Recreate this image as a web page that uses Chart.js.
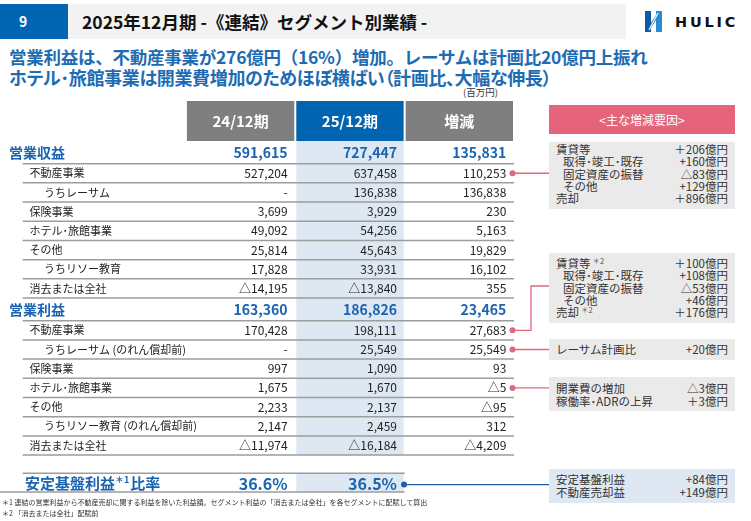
<!DOCTYPE html>
<html lang="ja">
<head>
<meta charset="utf-8">
<title>2025年12月期 セグメント別業績</title>
<script src="https://cdn.jsdelivr.net/npm/chart.js@4.4.1/dist/chart.umd.min.js"></script>
<style>
  html, body { margin: 0; padding: 0; background: #fff; }
  body { width: 751px; height: 521px; position: relative; overflow: hidden;
         font-family: 'Noto Sans CJK JP', sans-serif; color: #222; }
  .abs { position: absolute; }
  #pageNo { left: 0; top: 4px; width: 68px; height: 35px; background: #0066b3; color: #fff;
            font-weight: bold; font-size: 14px; line-height: 35px; padding-left: 19px; box-sizing: border-box; }
  #titleBar { left: 68px; top: 4px; width: 558px; height: 35px; background: #f2f2f2; }
  #titleBar span { position: absolute; left: 14px; top: 0; line-height: 35px; font-size: 17.5px;
                   font-weight: bold; color: #111; white-space: nowrap; }
  #logo { left: 645px; top: 11px; }
  #logoText { left: 675px; top: 11px; font-family: 'DejaVu Sans', sans-serif; font-weight: bold;
              font-size: 14.5px; line-height: 22px; letter-spacing: 2.8px; color: #111; }
  .headline { left: 9px; font-weight: bold; color: #1d6cb3; line-height: 20px; white-space: nowrap; }
  #head1 { top: 47px; font-size: 17.5px; letter-spacing: -0.25px; }
  #head2 { top: 67px; font-size: 18px; letter-spacing: -0.35px; font-feature-settings: "palt"; }
  #unit { left: 463px; top: 86px; font-size: 9.5px; line-height: 12px; color: #333; }
  #table { left: 0; top: 98px; }
  #factorHead { left: 549px; top: 105px; width: 186px; height: 29px; background: #e5637b; color: #fff;
                text-align: center; line-height: 29px; font-size: 12px; }
  .box { position: absolute; left: 549px; width: 186px; background: #ebeaeb; box-sizing: border-box;
         padding: 0 7px; font-size: 11.5px; color: #333; }
  .box .r { display: flex; justify-content: space-between; white-space: nowrap; }
  .box .ind { padding-left: 7px; }
  .box .sup { font-size: 7.5px; position: relative; top: -4px; color: #555; margin-left: 2px; }
  #box1 { top: 142px; height: 67px; padding-top: 1px; }
  #box1 .r, #box2 .r { line-height: 12.35px; height: 12.35px; }
  #box2 { top: 253px; height: 70px; padding-top: 4px; }
  #box3 { top: 339px; height: 21px; }
  #box3 .r { line-height: 21px; }
  #box4 { top: 377px; height: 34px; padding-top: 5px; }
  #box4 .r { line-height: 12.7px; height: 12.7px; }
  #box5 { top: 469px; height: 34px; padding-top: 3.5px; background: #dde8f3; }
  #box5 .r { line-height: 13.4px; height: 13.4px; }
  .note { left: 2px; font-size: 7px; line-height: 9px; color: #333; white-space: nowrap; }
</style>
</head>
<body>
<div class="abs" id="pageNo">9</div>
<div class="abs" id="titleBar"><span>2025年12月期 -《連結》セグメント別業績 -</span></div>
<svg class="abs" id="logo" width="17" height="21" viewBox="0 0 17 21">
  <rect x="0" y="0" width="6" height="21" fill="#0f5ba8"/>
  <rect x="11" y="0" width="6" height="21" fill="#2a8bd3"/>
  <polygon points="6,12 11,4 11,9 6,17" fill="#1b73c0"/>
  <line x1="4" y1="19" x2="13" y2="2" stroke="#fff" stroke-width="1.2"/>
</svg>
<div class="abs" id="logoText">HULIC</div>

<div class="abs headline" id="head1">営業利益は、不動産事業が276億円（16%）増加。レーサムは計画比20億円上振れ</div>
<div class="abs headline" id="head2">ホテル･旅館事業は開業費増加のためほぼ横ばい（計画比、大幅な伸長）</div>
<div class="abs" id="unit">(百万円)</div>

<canvas class="abs" id="table" width="549" height="404" style="width:549px;height:404px"></canvas>

<div class="abs" id="factorHead">&lt;主な増減要因&gt;</div>
<div class="box" id="box1">
  <div class="r"><span>賃貸等</span><span>＋206億円</span></div>
  <div class="r ind"><span>取得･竣工･既存</span><span>+160億円</span></div>
  <div class="r ind"><span>固定資産の振替</span><span>△83億円</span></div>
  <div class="r ind"><span>その他</span><span>+129億円</span></div>
  <div class="r"><span>売却</span><span>＋896億円</span></div>
</div>
<div class="box" id="box2">
  <div class="r"><span>賃貸等<span class="sup">＊2</span></span><span>＋100億円</span></div>
  <div class="r ind"><span>取得･竣工･既存</span><span>+108億円</span></div>
  <div class="r ind"><span>固定資産の振替</span><span>△53億円</span></div>
  <div class="r ind"><span>その他</span><span>+46億円</span></div>
  <div class="r"><span>売却<span class="sup">＊2</span></span><span>＋176億円</span></div>
</div>
<div class="box" id="box3">
  <div class="r"><span>レーサム計画比</span><span>+20億円</span></div>
</div>
<div class="box" id="box4">
  <div class="r"><span>開業費の増加</span><span>△3億円</span></div>
  <div class="r"><span>稼働率･ADRの上昇</span><span>＋3億円</span></div>
</div>
<div class="box" id="box5">
  <div class="r"><span>安定基盤利益</span><span>+84億円</span></div>
  <div class="r"><span>不動産売却益</span><span>+149億円</span></div>
</div>

<div class="abs note" style="top:498px">＊1 連結の営業利益から不動産売却に関する利益を除いた利益額。セグメント利益の「消去または全社」を各セグメントに配賦して算出</div>
<div class="abs note" style="top:509px">＊2 「消去または全社」配賦前</div>

<script>
// table rows (百万円)
const rowLabels = ['営業収益', '不動産事業', 'うちレーサム', '保険事業', 'ホテル･旅館事業', 'その他', 'うちリソー教育', '消去または全社',
                   '営業利益', '不動産事業', 'うちレーサム (のれん償却前)', '保険事業', 'ホテル･旅館事業', 'その他', 'うちリソー教育 (のれん償却前)', '消去または全社'];
const rowLevels = [0, 1, 2, 1, 1, 1, 2, 1, 0, 1, 2, 1, 1, 1, 2, 1];
const fy2024 = [591615, 527204, null, 3699, 49092, 25814, 17828, -14195, 163360, 170428, null, 997, 1675, 2233, 2147, -11974];
const fy2025 = [727447, 637458, 136838, 3929, 54256, 45643, 33931, -13840, 186826, 198111, 25549, 1090, 1670, 2137, 2459, -16184];
const yoyChange = [135831, 110253, 136838, 230, 5163, 19829, 16102, 355, 23465, 27683, 25549, 93, -5, -95, 312, -4209];
const columnHeaders = ['24/12期', '25/12期', '増減'];
const ratioLabel = ['安定基盤利益', '＊1', '比率'];
const ratioValues = [36.6, 36.5];
// rows whose 増減 cell is tied to a factor box
const calloutRows = [1, 9, 10, 12];

// layout (x in column widths, y in sub-row heights)
const ROW_PX = 19.2;
const X_MIN = -1.7, X_MAX = 3.32;
const Y_MAX = 404 / ROW_PX;
const HEADER_TOP = 3 / ROW_PX, HEADER_H = 40 / ROW_PX;
const BOLD_H = 1.18, SUB_H = 1, GAP_H = 0.95, RATIO_H = 0.97;
const LABEL_X = [-1.618, -1.431, -1.298];
const LINE_X0 = -1.493;
const NUM_PAD = 0.07;
const DOT_X = 2.986, ELBOW_X = 3.155, ELBOW_Y = 188 / ROW_PX, RATIO_DOT_X = 1.994;

const FONT = "'Noto Sans CJK JP', sans-serif";
const BLUE_TEXT = '#1b64b0', SHADE = '#dee8f3', RULE = '#9d9d9d';
const PINK = '#e3677e', BLUE_LINE = '#1f5fa6';

const bands = [];
let yCursor = HEADER_TOP + HEADER_H;
rowLevels.forEach(lv => {
    const h = lv === 0 ? BOLD_H : SUB_H;
    bands.push({ top: yCursor, bottom: yCursor + h, mid: yCursor + h / 2 });
    yCursor += h;
});
const tableBottom = yCursor;
const ratioBand = { top: tableBottom + GAP_H, bottom: tableBottom + GAP_H + RATIO_H };
ratioBand.mid = (ratioBand.top + ratioBand.bottom) / 2;

function fmt(n) {
    if (n === null) return '-';
    const s = Math.abs(n).toLocaleString('en-US');
    return n < 0 ? '△' + s : s;
}

function connector(points, color) {
    return {
        data: points, showLine: true, borderColor: color, borderWidth: 1.3,
        pointRadius: points.map((p, i) => i === 0 ? 3 : 0),
        pointBackgroundColor: color, pointBorderWidth: 0
    };
}

const tablePlugin = {
    id: 'segmentTable',
    beforeDatasetsDraw(chart) {
        const { ctx, scales: { x, y } } = chart;
        const px = v => x.getPixelForValue(v), py = v => y.getPixelForValue(v);
        const headerBottom = HEADER_TOP + HEADER_H;
        ctx.save();

        // shaded 25/12 column
        ctx.fillStyle = SHADE;
        ctx.fillRect(px(1) + 1, py(headerBottom), px(2) - px(1) - 2, py(tableBottom) - py(headerBottom));
        ctx.fillRect(px(1) + 1, py(ratioBand.top), px(2) - px(1) - 2, py(ratioBand.bottom) - py(ratioBand.top));

        // column headers
        columnHeaders.forEach((h, k) => {
            ctx.fillStyle = k === 1 ? '#0064b1' : '#7f7f7f';
            ctx.fillRect(px(k) + 1, py(HEADER_TOP), px(k + 1) - px(k) - 2, py(headerBottom) - py(HEADER_TOP));
            ctx.fillStyle = '#fff';
            ctx.font = 'bold 15px ' + FONT;
            ctx.textAlign = 'center';
            ctx.textBaseline = 'middle';
            ctx.fillText(h, px(k + 0.5), py(HEADER_TOP + HEADER_H / 2));
        });

        // row rules
        ctx.strokeStyle = RULE;
        ctx.lineWidth = 1.5;
        const rule = (x0, x1, yv) => {
            ctx.beginPath();
            ctx.moveTo(px(x0), py(yv));
            ctx.lineTo(px(x1), py(yv));
            ctx.stroke();
        };
        bands.forEach(b => rule(LINE_X0, 3, b.bottom));
        rule(LINE_X0, 2, ratioBand.top);
        rule(X_MIN, 2, ratioBand.bottom);

        // cells
        ctx.textBaseline = 'middle';
        rowLabels.forEach((label, i) => {
            const lv = rowLevels[i];
            const yy = py(bands[i].mid);
            ctx.fillStyle = lv === 0 ? BLUE_TEXT : '#222';
            ctx.font = lv === 0 ? 'bold 14px ' + FONT : '11px ' + FONT;
            ctx.textAlign = 'left';
            ctx.fillText(label, px(LABEL_X[lv]), yy);
            ctx.font = lv === 0 ? 'bold 14px ' + FONT : '12px ' + FONT;
            ctx.textAlign = 'right';
            [fy2024[i], fy2025[i], yoyChange[i]].forEach((v, k) => {
                ctx.fillText(fmt(v), px(k + 1 - NUM_PAD), yy);
            });
        });

        // 安定基盤利益比率 row
        const ry = py(ratioBand.mid) + 1;
        ctx.fillStyle = BLUE_TEXT;
        ctx.textAlign = 'left';
        let cx = px(-1.471);
        ratioLabel.forEach((part, i) => {
            ctx.font = i === 1 ? 'bold 9px ' + FONT : 'bold 15px ' + FONT;
            ctx.fillText(part, cx, i === 1 ? ry - 4 : ry);
            cx += ctx.measureText(part).width + (i === 1 ? 1 : 0);
        });
        ctx.font = 'bold 16px ' + FONT;
        ctx.textAlign = 'right';
        ratioValues.forEach((v, k) => {
            ctx.fillText(v.toFixed(1) + '%', px(k + 1 - NUM_PAD), ry);
        });
        ctx.restore();
    }
};

const dotLines = calloutRows.map(r => {
    const ym = bands[r].mid;
    if (r === 9) {
        return connector([{ x: DOT_X, y: ym }, { x: ELBOW_X, y: ym }, { x: ELBOW_X, y: ELBOW_Y }, { x: X_MAX, y: ELBOW_Y }], PINK);
    }
    return connector([{ x: DOT_X, y: ym }, { x: X_MAX, y: ym }], PINK);
});
const ratioLine = connector([{ x: RATIO_DOT_X, y: ratioBand.mid + 0.1 }, { x: X_MAX, y: ratioBand.mid + 0.1 }], BLUE_LINE);

new Chart(document.getElementById('table'), {
    type: 'scatter',
    data: { datasets: [...dotLines, ratioLine] },
    options: {
        responsive: false,
        animation: false,
        events: [],
        layout: { padding: 0, autoPadding: false },
        plugins: { legend: { display: false }, tooltip: { enabled: false } },
        scales: {
            x: { type: 'linear', display: false, min: X_MIN, max: X_MAX },
            y: { type: 'linear', display: false, reverse: true, min: 0, max: Y_MAX }
        }
    },
    plugins: [tablePlugin]
});
</script>
</body>
</html>
